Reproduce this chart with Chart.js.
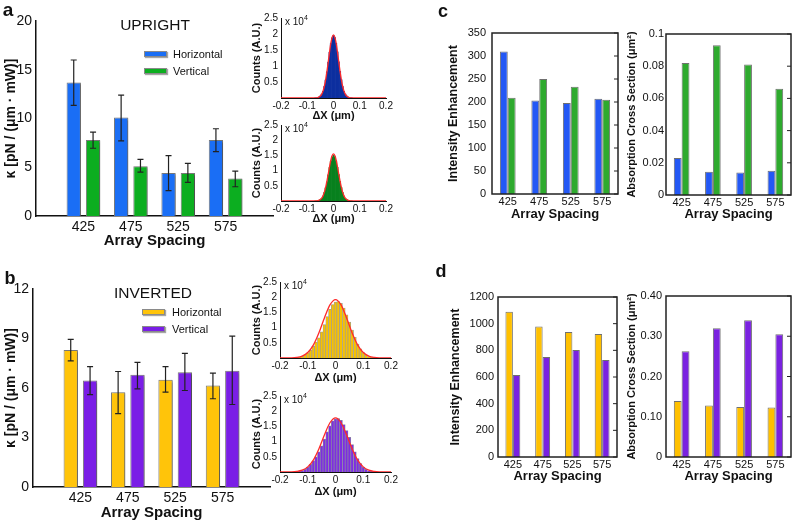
<!DOCTYPE html>
<html>
<head>
<meta charset="utf-8">
<script src="https://cdn.jsdelivr.net/npm/chart.js@4.4.1/dist/chart.umd.min.js"></script>
<style>
  body { margin: 0; background: #fff; }
  #fig { position: relative; width: 795px; height: 522px; overflow: hidden; font-family: "Liberation Sans", Arial, sans-serif; color: #111; }
  #fig canvas { position: absolute; }
  .txt { position: absolute; transform: translate(-50%, -50%); white-space: nowrap; line-height: 1; }
  .lbl { position: absolute; transform: translateY(-50%); white-space: nowrap; line-height: 1; font-size: 11px; }
  .sw { position: absolute; width: 23px; height: 6px; border: 1px solid #8a8a8a; box-sizing: border-box; box-shadow: 1px 1px 1px rgba(0,0,0,0.35); }
  .pl { font-weight: bold; font-size: 18px; }
  .exp { position: absolute; font-size: 10px; line-height: 1; white-space: nowrap; transform: translateY(-50%); }
  .exp sup { font-size: 7px; vertical-align: 5px; }
</style>
</head>
<body>
<div id="fig">
  <canvas id="barA" width="280" height="250" style="left:0;top:0"></canvas>
  <canvas id="barB" width="280" height="272" style="left:0;top:250px"></canvas>
  <canvas id="histA1" width="150" height="123" style="left:250px;top:0"></canvas>
  <canvas id="histA2" width="150" height="119" style="left:250px;top:107px"></canvas>
  <canvas id="histB1" width="150" height="121" style="left:250px;top:264px"></canvas>
  <canvas id="histB2" width="150" height="121" style="left:250px;top:378px"></canvas>
  <canvas id="enhC" width="195" height="222" style="left:430px;top:0"></canvas>
  <canvas id="crossC" width="170" height="222" style="left:625px;top:0"></canvas>
  <canvas id="enhD" width="195" height="222" style="left:430px;top:262px"></canvas>
  <canvas id="crossD" width="170" height="222" style="left:625px;top:262px"></canvas>

  <div class="txt pl" style="left:8px;top:9px;font-size:19px">a</div>
  <div class="txt pl" style="left:10px;top:278px">b</div>
  <div class="txt pl" style="left:443px;top:11px">c</div>
  <div class="txt pl" style="left:441px;top:271px">d</div>

  <div class="txt" style="left:155px;top:25px;font-size:15.5px">UPRIGHT</div>
  <div class="sw" style="left:144px;top:51px;background:#1a6ef5"></div>
  <div class="lbl" style="left:173px;top:54px">Horizontal</div>
  <div class="sw" style="left:144px;top:68px;background:#0cae20"></div>
  <div class="lbl" style="left:173px;top:71px">Vertical</div>

  <div class="txt" style="left:153px;top:293px;font-size:15.5px">INVERTED</div>
  <div class="sw" style="left:142px;top:309px;background:#ffc40a"></div>
  <div class="lbl" style="left:172px;top:312px">Horizontal</div>
  <div class="sw" style="left:142px;top:326px;background:#7a1ee6"></div>
  <div class="lbl" style="left:172px;top:329px">Vertical</div>

  <div class="exp" style="left:285px;top:20px">x 10<sup>4</sup></div>
  <div class="exp" style="left:285px;top:127px">x 10<sup>4</sup></div>
  <div class="exp" style="left:284px;top:284px">x 10<sup>4</sup></div>
  <div class="exp" style="left:284px;top:398px">x 10<sup>4</sup></div>
</div>

<script>
// array spacings (nm)
const spacing = [425, 475, 525, 575];
const spacingLabels = ['425', '475', '525', '575'];

// a - upright, trap stiffness
const uprightHoriz = [13.7, 10.1, 4.4, 7.8];
const uprightHorizHi = [16.0, 12.4, 6.2, 8.95];
const uprightHorizLo = [11.35, 7.7, 2.6, 6.6];
const uprightVert = [7.8, 5.1, 4.4, 3.85];
const uprightVertHi = [8.6, 5.8, 5.4, 4.6];
const uprightVertLo = [6.95, 4.5, 3.45, 3.0];

// b - inverted, trap stiffness
const invertedHoriz = [8.3, 5.75, 6.5, 6.15];
const invertedHorizHi = [8.95, 7.0, 7.3, 6.9];
const invertedHorizLo = [7.65, 4.45, 5.75, 5.35];
const invertedVert = [6.45, 6.8, 6.95, 7.05];
const invertedVertHi = [7.3, 7.55, 8.1, 9.15];
const invertedVertLo = [5.6, 5.95, 5.85, 5.0];

// position histograms (counts x 10^4)
const binsA = [-0.07, -0.065, -0.06, -0.055, -0.05, -0.045, -0.04, -0.035, -0.03, -0.025, -0.02, -0.015, -0.01, -0.005, 0,
  0.005, 0.01, 0.015, 0.02, 0.025, 0.03, 0.035, 0.04, 0.045, 0.05, 0.055, 0.06, 0.065, 0.07];
const histUpH = [0, 0.005, 0.01, 0.03, 0.06, 0.12, 0.21, 0.36, 0.56, 0.82, 1.12, 1.43, 1.70, 1.88, 1.95,
  1.89, 1.71, 1.44, 1.13, 0.83, 0.57, 0.36, 0.21, 0.12, 0.06, 0.03, 0.01, 0.005, 0];
const histUpV = [0, 0.004, 0.01, 0.02, 0.05, 0.09, 0.16, 0.28, 0.43, 0.63, 0.86, 1.10, 1.31, 1.45, 1.50,
  1.46, 1.32, 1.11, 0.87, 0.64, 0.44, 0.28, 0.16, 0.09, 0.05, 0.02, 0.01, 0.004, 0];
const fitXA = [-0.2, -0.1, -0.08, -0.07, -0.06, -0.05, -0.045, -0.04, -0.035, -0.03, -0.025, -0.02, -0.015, -0.01, -0.005, 0,
  0.005, 0.01, 0.015, 0.02, 0.025, 0.03, 0.035, 0.04, 0.045, 0.05, 0.06, 0.07, 0.08, 0.1, 0.2];
const fitUpH = [0, 0, 0, 0.002, 0.014, 0.062, 0.12, 0.215, 0.36, 0.566, 0.83, 1.13, 1.44, 1.72, 1.90, 1.97,
  1.90, 1.72, 1.44, 1.13, 0.83, 0.566, 0.36, 0.215, 0.12, 0.062, 0.014, 0.002, 0, 0, 0];
const fitUpV = [0, 0, 0, 0.002, 0.011, 0.049, 0.094, 0.169, 0.283, 0.445, 0.653, 0.889, 1.133, 1.354, 1.495, 1.55,
  1.495, 1.354, 1.133, 0.889, 0.653, 0.445, 0.283, 0.169, 0.094, 0.049, 0.011, 0.002, 0, 0, 0];

const binsB = [-0.14, -0.13, -0.12, -0.11, -0.1, -0.09, -0.08, -0.07, -0.06, -0.05, -0.04, -0.03, -0.02, -0.01, 0,
  0.01, 0.02, 0.03, 0.04, 0.05, 0.06, 0.07, 0.08, 0.09, 0.1, 0.11, 0.12, 0.13, 0.14];
const histInvH = [0.01, 0.03, 0.06, 0.10, 0.17, 0.26, 0.38, 0.52, 0.66, 0.86, 1.10, 1.36, 1.60, 1.76, 1.84,
  1.86, 1.80, 1.64, 1.42, 1.18, 0.92, 0.68, 0.46, 0.30, 0.18, 0.10, 0.05, 0.02, 0.01];
const histInvV = [0.01, 0.02, 0.05, 0.09, 0.16, 0.25, 0.37, 0.50, 0.66, 0.86, 1.08, 1.32, 1.52, 1.68, 1.75,
  1.76, 1.70, 1.56, 1.36, 1.14, 0.90, 0.66, 0.44, 0.28, 0.16, 0.09, 0.04, 0.02, 0.01];
const fitXB = [-0.2, -0.16, -0.14, -0.12, -0.1, -0.08, -0.06, -0.04, -0.02, 0, 0.02, 0.04, 0.06, 0.08, 0.1, 0.12, 0.14, 0.16, 0.2];
const fitInvH = [0, 0.005, 0.019, 0.064, 0.181, 0.423, 0.820, 1.316, 1.747, 1.92, 1.747, 1.316, 0.820, 0.423, 0.181, 0.064, 0.019, 0.005, 0];
const fitInvV = [0, 0.005, 0.018, 0.059, 0.168, 0.392, 0.760, 1.220, 1.620, 1.78, 1.620, 1.220, 0.760, 0.392, 0.168, 0.059, 0.018, 0.005, 0];

// c - upright simulations
const enhUpH = [310, 203, 198, 207];
const enhUpV = [209, 250, 233, 205];
const crossUpH = [0.023, 0.0145, 0.014, 0.015];
const crossUpV = [0.082, 0.093, 0.081, 0.066];

// d - inverted simulations
const enhInvH = [1090, 978, 938, 922];
const enhInvV = [615, 750, 802, 728];
const crossInvH = [0.139, 0.128, 0.124, 0.123];
const crossInvV = [0.263, 0.32, 0.34, 0.305];

Chart.defaults.font.family = '"Liberation Sans", Arial, sans-serif';
Chart.defaults.color = '#111';
Chart.defaults.animation = false;
Chart.defaults.plugins.legend.display = false;
Chart.defaults.plugins.tooltip.enabled = false;

function fixWidth(w) { return function (scale) { scale.width = w; }; }
function fixHeight(h) { return function (scale) { scale.height = h; }; }

//soft drop shadow under the stiffness bars
const shadowPlugin = {
  id: 'barShadow',
  beforeDatasetsDraw(chart) {
    const ctx = chart.ctx;
    ctx.save();
    ctx.shadowColor = 'rgba(0,0,0,0.35)';
    ctx.shadowBlur = 2;
    ctx.shadowOffsetX = 2;
    ctx.shadowOffsetY = 1;
  },
  afterDatasetsDraw(chart) {
    chart.ctx.restore();
  }
};

//error bars read from errHi / errLo on each dataset
const errorBarPlugin = {
  id: 'errorBars',
  afterDatasetsDraw(chart) {
    const ctx = chart.ctx;
    const yScale = chart.scales.y;
    chart.data.datasets.forEach((ds, di) => {
      if (!ds.errHi) return;
      chart.getDatasetMeta(di).data.forEach((bar, i) => {
        const top = yScale.getPixelForValue(ds.errHi[i]);
        const bot = yScale.getPixelForValue(ds.errLo[i]);
        ctx.save();
        ctx.strokeStyle = '#222';
        ctx.lineWidth = 1.2;
        ctx.beginPath();
        ctx.moveTo(bar.x, top); ctx.lineTo(bar.x, bot);
        ctx.moveTo(bar.x - 3, top); ctx.lineTo(bar.x + 3, top);
        ctx.moveTo(bar.x - 3, bot); ctx.lineTo(bar.x + 3, bot);
        ctx.stroke();
        ctx.restore();
      });
    });
  }
};

//box around the simulation plots with inward ticks on the right side
const framePlugin = {
  id: 'frame',
  afterDraw(chart) {
    const ctx = chart.ctx;
    const a = chart.chartArea;
    const y = chart.scales.y;
    ctx.save();
    ctx.strokeStyle = '#222';
    ctx.lineWidth = 1.5;
    ctx.strokeRect(a.left, a.top, a.right - a.left, a.bottom - a.top);
    ctx.lineWidth = 1;
    ctx.beginPath();
    y.ticks.forEach(t => {
      const py = y.getPixelForValue(t.value);
      ctx.moveTo(a.right, py);
      ctx.lineTo(a.right - 4, py);
    });
    ctx.stroke();
    ctx.restore();
  }
};

function kappaChart(id, o) {
  const mk = (vals, hi, lo, color) => ({
    data: spacing.map((s, i) => ({ x: s, y: vals[i] })),
    errHi: hi,
    errLo: lo,
    backgroundColor: color,
    borderColor: '#7a7a7a',
    borderWidth: 1,
    categoryPercentage: 0.816,
    barPercentage: 0.74
  });
  new Chart(document.getElementById(id), {
    type: 'bar',
    data: { datasets: [mk(o.h, o.hHi, o.hLo, o.colorH), mk(o.v, o.vHi, o.vLo, o.colorV)] },
    options: {
      responsive: false,
      devicePixelRatio: 1,
      layout: { padding: { top: o.padTop, right: o.padRight, left: 0, bottom: 0 } },
      scales: {
        x: {
          type: 'linear', min: 375, max: 625, offset: false,
          afterBuildTicks: s => { s.ticks = spacing.map(v => ({ value: v })); },
          afterFit: fixHeight(o.xHeight),
          ticks: { font: { size: 14 }, padding: 3, maxRotation: 0 },
          grid: { display: false, drawTicks: false },
          border: { display: true, color: '#111', width: 1.5 },
          title: { display: true, text: 'Array Spacing', font: { size: 15, weight: 'bold' }, padding: 0 }
        },
        y: {
          min: 0, max: o.max,
          afterFit: fixWidth(o.yWidth),
          ticks: { stepSize: o.step, font: { size: 14 }, padding: 4 },
          grid: { display: false, drawTicks: false },
          border: { display: true, color: '#111', width: 1.5 },
          title: { display: true, text: 'κ [pN / (μm · mW)]', font: { size: 14, weight: 'bold' }, padding: { top: 3, bottom: 0 } }
        }
      }
    },
    plugins: [shadowPlugin, errorBarPlugin]
  });
}

function histChart(id, o) {
  new Chart(document.getElementById(id), {
    type: 'bar',
    data: {
      datasets: [
        {
          type: 'line',
          data: o.fitX.map((x, i) => ({ x: x, y: o.fitY[i] })),
          borderColor: '#ff2a2a', borderWidth: 1.3, pointRadius: 0,
          cubicInterpolationMode: 'monotone', order: 0
        },
        {
          data: o.bins.map((x, i) => ({ x: x, y: o.counts[i] })),
          backgroundColor: o.color, borderColor: o.edge, borderWidth: o.edgeWidth,
          barPercentage: 1, categoryPercentage: 1, order: 1
        }
      ]
    },
    options: {
      responsive: false,
      devicePixelRatio: 1,
      layout: { padding: { top: 18, right: o.padRight, left: 0, bottom: 0 } },
      scales: {
        x: {
          type: 'linear', min: -0.2, max: 0.2, offset: false,
          afterFit: fixHeight(o.xHeight),
          ticks: { stepSize: 0.1, font: { size: 10 }, padding: 2, maxRotation: 0,
            callback: v => Math.abs(v) < 1e-9 ? '0' : v.toFixed(1) },
          grid: { display: false, drawTicks: false },
          border: { display: true, color: '#111', width: 1 },
          title: { display: true, text: 'ΔX (μm)', font: { size: 11, weight: 'bold' }, padding: 0 }
        },
        y: {
          min: 0, max: 2.5,
          afterFit: fixWidth(o.yWidth),
          ticks: { stepSize: 0.5, font: { size: 10 }, padding: 3, callback: v => v === 0 ? '' : v },
          grid: { display: false, drawTicks: false },
          border: { display: true, color: '#111', width: 1 },
          title: { display: true, text: 'Counts (A.U.)', font: { size: 11, weight: 'bold' }, padding: 0 }
        }
      }
    }
  });
}

function groupChart(id, o) {
  new Chart(document.getElementById(id), {
    type: 'bar',
    data: {
      labels: spacingLabels,
      datasets: [
        { data: o.h, backgroundColor: o.colorH, borderColor: '#707070', borderWidth: 1 },
        { data: o.v, backgroundColor: o.colorV, borderColor: '#707070', borderWidth: 1 }
      ]
    },
    options: {
      responsive: false,
      devicePixelRatio: 1,
      datasets: { bar: { categoryPercentage: 0.5, barPercentage: 1 } },
      layout: { padding: { top: o.padTop, right: o.padRight, left: 0, bottom: 0 } },
      scales: {
        x: {
          afterFit: fixHeight(o.xHeight),
          ticks: { font: { size: 11 }, padding: 1, maxRotation: 0 },
          grid: { display: false, drawTicks: false },
          border: { display: false },
          title: { display: true, text: 'Array Spacing', font: { size: 13, weight: 'bold' }, padding: 0 }
        },
        y: {
          min: 0, max: o.max,
          afterFit: fixWidth(o.yWidth),
          ticks: { stepSize: o.step, font: { size: 11 }, padding: o.tickPad, callback: o.fmt },
          grid: { display: false, drawTicks: false },
          border: { display: false },
          title: { display: true, text: o.title, font: { size: o.titleSize, weight: 'bold' }, padding: { top: o.titlePad, bottom: 0 } }
        }
      }
    },
    plugins: [framePlugin]
  });
}

kappaChart('barA', {
  h: uprightHoriz, hHi: uprightHorizHi, hLo: uprightHorizLo,
  v: uprightVert, vHi: uprightVertHi, vLo: uprightVertLo,
  colorH: '#1a6ef5', colorV: '#0cae20',
  max: 20, step: 5, padTop: 21, padRight: 7, yWidth: 36, xHeight: 34
});
kappaChart('barB', {
  h: invertedHoriz, hHi: invertedHorizHi, hLo: invertedHorizLo,
  v: invertedVert, vHi: invertedVertHi, vLo: invertedVertLo,
  colorH: '#ffc40a', colorV: '#7a1ee6',
  max: 12, step: 3, padTop: 39, padRight: 10, yWidth: 33, xHeight: 35
});

histChart('histA1', { bins: binsA, counts: histUpH, fitX: fitXA, fitY: fitUpH,
  color: '#0d2f9f', edge: '#0d2f9f', edgeWidth: 0, yWidth: 31, xHeight: 25, padRight: 14 });
histChart('histA2', { bins: binsA, counts: histUpV, fitX: fitXA, fitY: fitUpV,
  color: '#08801e', edge: '#08801e', edgeWidth: 0, yWidth: 31, xHeight: 25, padRight: 14 });
histChart('histB1', { bins: binsB, counts: histInvH, fitX: fitXB, fitY: fitInvH,
  color: '#f7c200', edge: '#9b9b9b', edgeWidth: 0.7, yWidth: 30, xHeight: 27, padRight: 9 });
histChart('histB2', { bins: binsB, counts: histInvV, fitX: fitXB, fitY: fitInvV,
  color: '#7d2ee0', edge: '#8d8d9d', edgeWidth: 0.7, yWidth: 30, xHeight: 27, padRight: 9 });

const plainNum = v => v === 0 ? '0' : String(Number(v.toFixed(3)));
const twoDec = v => v === 0 ? '0' : v.toFixed(2);

groupChart('enhC', { h: enhUpH, v: enhUpV, colorH: '#2358f5', colorV: '#2eaa2e',
  max: 350, step: 50, fmt: plainNum, title: 'Intensity Enhancement', titleSize: 12.5, titlePad: 16,
  tickPad: 6, padTop: 33, padRight: 7, yWidth: 62, xHeight: 28 });
groupChart('crossC', { h: crossUpH, v: crossUpV, colorH: '#2358f5', colorV: '#2eaa2e',
  max: 0.1, step: 0.02, fmt: plainNum, title: 'Absorption Cross Section (μm²)', titleSize: 11, titlePad: 0,
  tickPad: 2, padTop: 34, padRight: 4, yWidth: 41, xHeight: 27 });
groupChart('enhD', { h: enhInvH, v: enhInvV, colorH: '#ffc000', colorV: '#7a22e0',
  max: 1200, step: 200, fmt: plainNum, title: 'Intensity Enhancement', titleSize: 12.5, titlePad: 18,
  tickPad: 4, padTop: 35, padRight: 8, yWidth: 68, xHeight: 27 });
groupChart('crossD', { h: crossInvH, v: crossInvV, colorH: '#ffc000', colorV: '#7a22e0',
  max: 0.4, step: 0.1, fmt: twoDec, title: 'Absorption Cross Section (μm²)', titleSize: 11, titlePad: 0,
  tickPad: 4, padTop: 34, padRight: 4, yWidth: 41, xHeight: 27 });
</script>
</body>
</html>
